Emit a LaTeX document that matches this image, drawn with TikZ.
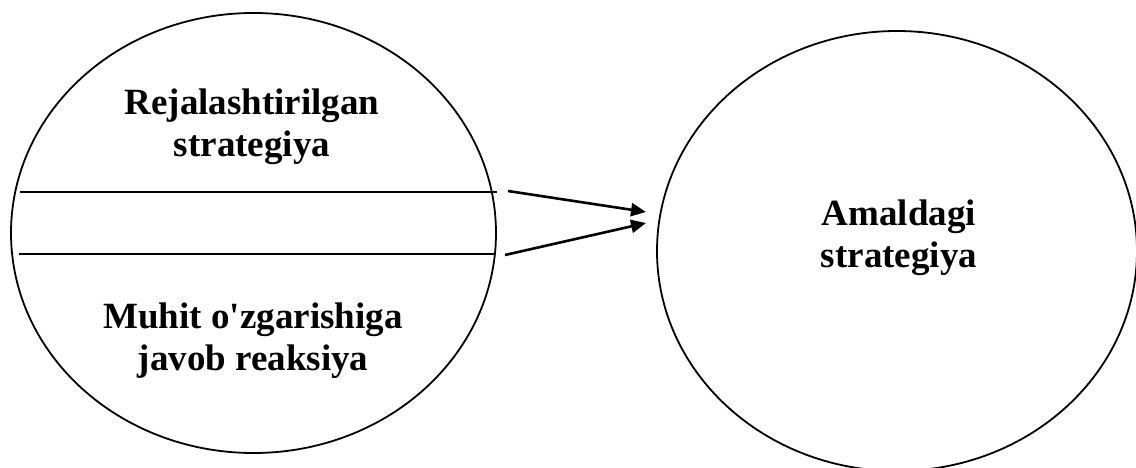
\documentclass[tikz,border=0pt]{standalone}
\usepackage{fontspec}
\setmainfont{Liberation Serif}
\usetikzlibrary{shapes.geometric,arrows.meta}

\begin{document}
\begin{tikzpicture}[x=1pt,y=1pt,
  oval/.style={ellipse,draw,line width=1.8pt,inner sep=0pt},
  label/.style={font=\bfseries\fontsize{37}{42}\selectfont,align=center,anchor=base,inner sep=0pt},
  divider/.style={line width=1.8pt},
  flow/.style={line width=2.6pt,-{Triangle[length=15pt,width=13pt]}}]
  \useasboundingbox (0,0) rectangle (1136,-468);
  \clip (0,0) rectangle (1136,-468);

  % planned strategy and reaction to environment change
  \node[oval,minimum width=485,minimum height=440] (plan) at (253.5,-233) {};
  \draw[divider] (20,-192) -- (497,-192);
  \draw[divider] (19,-254) -- (496,-254);
  % the base anchor sits on the last line's baseline
  \node[label] (planned) at (252,-157) {Rejalashtirilgan\\strategiya};
  \node[label] (react) at (253,-370) {Muhit o\textquotesingle zgarishiga\\javob reaksiya};

  % realised strategy
  \node[oval,minimum width=480,minimum height=440] (real) at (897,-251) {};
  \node[label] (actual) at (899,-267) {Amaldagi\\strategiya};

  % flows into the realised strategy
  \coordinate (fromTop) at (508,-191);
  \coordinate (fromBot) at (505,-255);
  \coordinate (toTop) at (646,-212);
  \coordinate (toBot) at (646,-223);
  \draw[flow] (fromTop) -- (toTop);
  \draw[flow] (fromBot) -- (toBot);
\end{tikzpicture}
\end{document}
